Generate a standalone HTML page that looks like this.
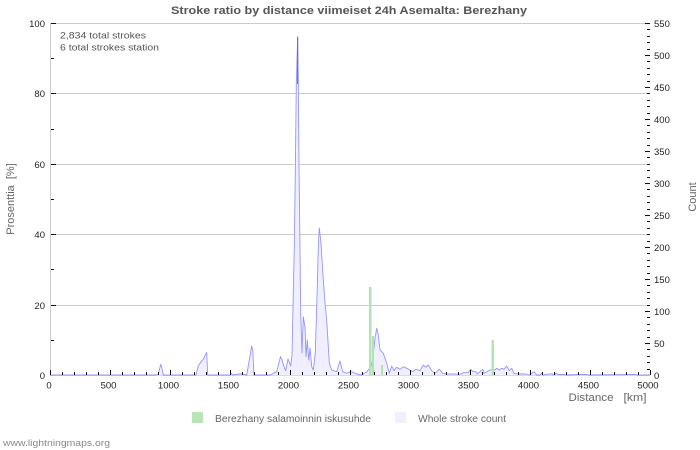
<!DOCTYPE html>
<html><head><meta charset="utf-8"><style>
html,body{margin:0;padding:0;background:#fff;}
svg{display:block;}
text{font-family:"Liberation Sans","DejaVu Sans",sans-serif;}
</style></head><body>
<svg width="700" height="450" viewBox="0 0 700 450" xmlns="http://www.w3.org/2000/svg">
<rect width="700" height="450" fill="#fff"/>
<text x="349" y="14" font-size="11" font-weight="bold" fill="#555" text-anchor="middle" textLength="356" lengthAdjust="spacingAndGlyphs">Stroke ratio by distance viimeiset 24h Asemalta: Berezhany</text>
<g stroke="#cccccc" stroke-width="1" shape-rendering="crispEdges">
<line x1="50" y1="23.5" x2="650" y2="23.5"/>
<line x1="50" y1="93.5" x2="650" y2="93.5"/>
<line x1="50" y1="164.5" x2="650" y2="164.5"/>
<line x1="50" y1="234.5" x2="650" y2="234.5"/>
<line x1="50" y1="305.5" x2="650" y2="305.5"/>
<line x1="50.5" y1="23" x2="50.5" y2="376"/>
<line x1="50" y1="375.5" x2="650" y2="375.5"/>
</g>
<text x="60" y="38.5" font-size="9" fill="#555" textLength="86" lengthAdjust="spacingAndGlyphs">2,834 total strokes</text>
<text x="60" y="50.5" font-size="9" fill="#555" textLength="99" lengthAdjust="spacingAndGlyphs">6 total strokes station</text>
<polygon fill="#efefff" points="50,375.4 156,375 158.3,374.3 160.7,364.3 162,368.3 163.3,375 196,375 198.3,366 200,363.3 203.3,359.3 206.7,352.3 207.7,375 230,375 231.7,373.5 233,375 239,374 241.7,374 246.7,375 249.3,360 251.7,346 252.7,350 254,375 270,375 273.3,373.3 276.7,371.7 280.5,356.5 282,360 284,366.7 285.7,370.7 288,359 290.7,366 292,355 293.3,293 294.3,246.7 295.3,173 296.3,83 297.7,36.7 298.3,81.7 299,166.7 300,250 300.7,313 302,353 303.3,316.7 305,327 306,356.7 307.3,340 308.7,360 310,348 311.7,366.7 313.3,370 315.3,353 317.3,286.7 318.3,246.7 319.3,228 320.7,240 322,260 323.3,280 325,303 326.7,320 328.3,346.7 329.3,363 331.7,370 336.7,371.7 340,361 342.7,371.7 346.7,373.3 351.7,371.7 356.7,374 361.7,375 366.7,371.7 371.7,366 373.3,353.3 375,338.3 376.7,328.3 378.3,335 380,350 383.3,353.3 386.7,363.3 389.3,373.3 391.7,366 394,370.7 396.7,367.3 400,369.3 403.3,366.7 406.7,368.3 410,370 412.7,371.7 416,369.3 420,370.7 423.3,365 426,367.3 428.3,365 431.7,370.7 435,373.3 439.3,369.3 442.7,373.3 446.7,374 453.3,374 460,374.3 463.3,372.7 468,372.7 470.7,369.3 473.3,371.7 476,371.7 477.3,374 480,371.7 482.7,369.3 484,373.3 486.7,371.7 490,370 492.7,369.3 495,370 496.7,368.3 499.3,370 501.7,368.3 504,369.3 506.7,366 509.3,370.7 511.7,368.3 514,373.3 518.3,374 526,374 530,375 532,373 534,371.7 536.7,375 540,375 541.7,373.3 543,375 548,374 552,374 553,375 555,374.5 556,373 558,374.5 563,374.5 565,374.5 566,375 579,374.5 587,374.5 588,375 632,374.5 636,374.5 637,375 650,375.4"/>
<polyline fill="none" stroke="#9494ff" stroke-width="0.9" stroke-linejoin="round" points="50,375 156,375 158.3,374.3 160.7,364.3 162,368.3 163.3,375 196,375 198.3,366 200,363.3 203.3,359.3 206.7,352.3 207.7,375 230,375 231.7,373.5 233,375 239,374 241.7,374 246.7,375 249.3,360 251.7,346 252.7,350 254,375 270,375 273.3,373.3 276.7,371.7 280.5,356.5 282,360 284,366.7 285.7,370.7 288,359 290.7,366 292,355 293.3,293 294.3,246.7 295.3,173 296.3,83 297.7,36.7 298.3,81.7 299,166.7 300,250 300.7,313 302,353 303.3,316.7 305,327 306,356.7 307.3,340 308.7,360 310,348 311.7,366.7 313.3,370 315.3,353 317.3,286.7 318.3,246.7 319.3,228 320.7,240 322,260 323.3,280 325,303 326.7,320 328.3,346.7 329.3,363 331.7,370 336.7,371.7 340,361 342.7,371.7 346.7,373.3 351.7,371.7 356.7,374 361.7,375 366.7,371.7 371.7,366 373.3,353.3 375,338.3 376.7,328.3 378.3,335 380,350 383.3,353.3 386.7,363.3 389.3,373.3 391.7,366 394,370.7 396.7,367.3 400,369.3 403.3,366.7 406.7,368.3 410,370 412.7,371.7 416,369.3 420,370.7 423.3,365 426,367.3 428.3,365 431.7,370.7 435,373.3 439.3,369.3 442.7,373.3 446.7,374 453.3,374 460,374.3 463.3,372.7 468,372.7 470.7,369.3 473.3,371.7 476,371.7 477.3,374 480,371.7 482.7,369.3 484,373.3 486.7,371.7 490,370 492.7,369.3 495,370 496.7,368.3 499.3,370 501.7,368.3 504,369.3 506.7,366 509.3,370.7 511.7,368.3 514,373.3 518.3,374 526,374 530,375 532,373 534,371.7 536.7,375 540,375 541.7,373.3 543,375 548,374 552,374 553,375 555,374.5 556,373 558,374.5 563,374.5 565,374.5 566,375 579,374.5 587,374.5 588,375 632,374.5 636,374.5 637,375 650,375"/>
<line x1="297.6" y1="37" x2="297.6" y2="84" stroke="#6060f0" stroke-width="1"/>
<g fill="#b3e2b3" shape-rendering="crispEdges">
<rect x="369" y="287" width="2.5" height="88"/>
<rect x="372" y="336" width="2" height="39"/>
<rect x="381" y="365" width="2" height="10"/>
<rect x="491.7" y="340" width="2.3" height="35"/>
</g>
<g stroke="#111" stroke-width="1" shape-rendering="crispEdges">
<path d="M50.5 370V375M62.5 372V375M74.5 372V375M86.5 372V375M98.5 372V375M110.5 370V375M122.5 372V375M134.5 372V375M146.5 372V375M158.5 372V375M170.5 370V375M182.5 372V375M194.5 372V375M206.5 372V375M218.5 372V375M230.5 370V375M242.5 372V375M254.5 372V375M266.5 372V375M278.5 372V375M290.5 370V375M302.5 372V375M314.5 372V375M326.5 372V375M338.5 372V375M350.5 370V375M362.5 372V375M374.5 372V375M386.5 372V375M398.5 372V375M410.5 370V375M422.5 372V375M434.5 372V375M446.5 372V375M458.5 372V375M470.5 370V375M482.5 372V375M494.5 372V375M506.5 372V375M518.5 372V375M530.5 370V375M542.5 372V375M554.5 372V375M566.5 372V375M578.5 372V375M590.5 370V375M602.5 372V375M614.5 372V375M626.5 372V375M638.5 372V375M650.5 370V375"/>
<path d="M51 23.5H56M51 58.5H54M51 93.5H56M51 129.5H54M51 164.5H56M51 199.5H54M51 234.5H56M51 269.5H54M51 305.5H56M51 340.5H54"/>
<path d="M645 23.5H650M647 29.5H650M647 36.5H650M647 42.5H650M647 49.5H650M645 55.5H650M647 61.5H650M647 68.5H650M647 74.5H650M647 81.5H650M645 87.5H650M647 93.5H650M647 100.5H650M647 106.5H650M647 113.5H650M645 119.5H650M647 125.5H650M647 132.5H650M647 138.5H650M647 145.5H650M645 151.5H650M647 157.5H650M647 164.5H650M647 170.5H650M647 177.5H650M645 183.5H650M647 189.5H650M647 196.5H650M647 202.5H650M647 209.5H650M645 215.5H650M647 221.5H650M647 228.5H650M647 234.5H650M647 241.5H650M645 247.5H650M647 253.5H650M647 260.5H650M647 266.5H650M647 273.5H650M645 279.5H650M647 285.5H650M647 292.5H650M647 298.5H650M647 305.5H650M645 311.5H650M647 317.5H650M647 324.5H650M647 330.5H650M647 337.5H650M645 343.5H650M647 349.5H650M647 356.5H650M647 362.5H650M647 369.5H650"/>
</g>
<g font-size="9.5" fill="#222" text-anchor="end">
<text x="45" y="27">100</text>
<text x="45" y="97">80</text>
<text x="45" y="168">60</text>
<text x="45" y="238">40</text>
<text x="45" y="309">20</text>
<text x="45" y="379">0</text>
</g>
<g font-size="9.5" fill="#222">
<text x="654" y="27">550</text>
<text x="654" y="59">500</text>
<text x="654" y="91">450</text>
<text x="654" y="123">400</text>
<text x="654" y="155">350</text>
<text x="654" y="187">300</text>
<text x="654" y="219">250</text>
<text x="654" y="251">200</text>
<text x="654" y="283">150</text>
<text x="654" y="315">100</text>
<text x="654" y="347">50</text>
<text x="654" y="379">0</text>
</g>
<g font-size="9.5" fill="#222" text-anchor="middle">
<text x="49" y="388.5">0</text>
<text x="108.5" y="388.5">500</text>
<text x="168.5" y="388.5">1000</text>
<text x="228.5" y="388.5">1500</text>
<text x="288.5" y="388.5">2000</text>
<text x="348.5" y="388.5">2500</text>
<text x="408.5" y="388.5">3000</text>
<text x="468.5" y="388.5">3500</text>
<text x="528.5" y="388.5">4000</text>
<text x="588.5" y="388.5">4500</text>
<text x="648" y="388.5">5000</text>
</g>
<text x="568.5" y="401" font-size="11" fill="#666" textLength="45" lengthAdjust="spacingAndGlyphs">Distance</text>
<text x="623.5" y="401" font-size="11" fill="#666" textLength="23" lengthAdjust="spacingAndGlyphs">[km]</text>
<text transform="translate(14,199) rotate(-90)" font-size="11" fill="#666" text-anchor="middle" xml:space="preserve">Prosenttia  [%]</text>
<text transform="translate(696,197) rotate(-90)" font-size="11" fill="#666" text-anchor="middle">Count</text>
<rect x="192" y="412" width="11" height="11" fill="#b8e4b8"/>
<text x="215" y="422" font-size="10" fill="#666" textLength="156" lengthAdjust="spacingAndGlyphs">Berezhany salamoinnin iskusuhde</text>
<rect x="395" y="412" width="11" height="11" fill="#f0f0ff"/>
<text x="418" y="422" font-size="10" fill="#666" textLength="88" lengthAdjust="spacingAndGlyphs">Whole stroke count</text>
<text x="3" y="446" font-size="9.5" fill="#888" textLength="107" lengthAdjust="spacingAndGlyphs">www.lightningmaps.org</text>
</svg>
</body></html>
